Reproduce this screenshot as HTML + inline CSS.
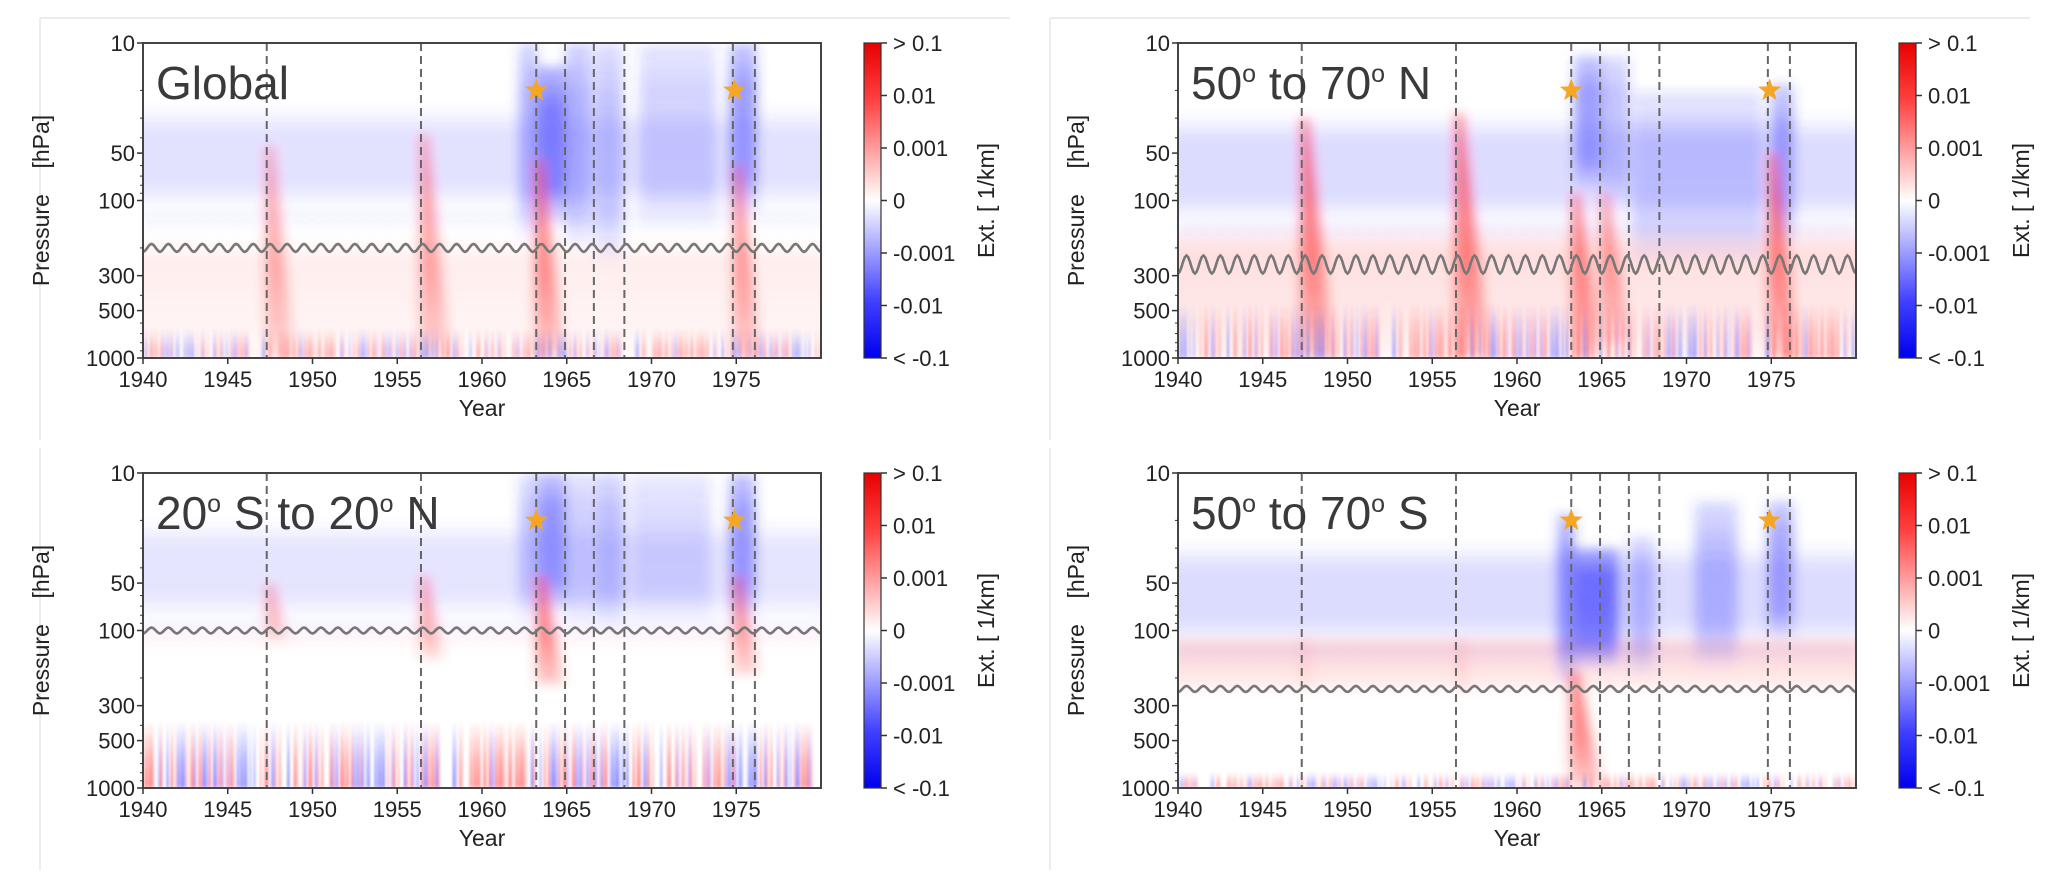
<!DOCTYPE html>
<html><head><meta charset="utf-8">
<style>
html,body{margin:0;padding:0;background:#fff;}
svg{display:block;font-family:"Liberation Sans","DejaVu Sans",sans-serif;}
</style></head>
<body>
<svg id="fig" width="2067" height="891" viewBox="0 0 2067 891" xmlns="http://www.w3.org/2000/svg">
<defs>
<linearGradient id="cbGrad" x1="0" y1="0" x2="0" y2="1">
<stop offset="0" stop-color="#e80000"/><stop offset="0.18" stop-color="#ff4040"/><stop offset="0.5" stop-color="#ffffff"/><stop offset="0.82" stop-color="#4040ff"/><stop offset="1" stop-color="#0000ee"/>
</linearGradient>
<linearGradient id="blueFade" x1="0" y1="0" x2="0" y2="1">
<stop offset="0" stop-color="#3a3aff" stop-opacity="0.5"/><stop offset="0.25" stop-color="#3a3aff" stop-opacity="1"/><stop offset="0.75" stop-color="#3a3aff" stop-opacity="0.9"/><stop offset="1" stop-color="#3a3aff" stop-opacity="0"/>
</linearGradient>
<linearGradient id="redFade" x1="0" y1="0" x2="0" y2="1">
<stop offset="0" stop-color="#ff3030" stop-opacity="1"/><stop offset="0.6" stop-color="#ff3030" stop-opacity="0.75"/><stop offset="1" stop-color="#ff3030" stop-opacity="0.3"/>
</linearGradient>
<linearGradient id="bandBlue" x1="0" y1="0" x2="0" y2="1">
<stop offset="0" stop-color="#5050ff" stop-opacity="0"/><stop offset="0.25" stop-color="#5050ff" stop-opacity="1"/><stop offset="0.75" stop-color="#5050ff" stop-opacity="1"/><stop offset="1" stop-color="#5050ff" stop-opacity="0"/>
</linearGradient>
<linearGradient id="bandRed" x1="0" y1="0" x2="0" y2="1">
<stop offset="0" stop-color="#ff4040" stop-opacity="0"/><stop offset="0.2" stop-color="#ff4040" stop-opacity="1"/><stop offset="0.7" stop-color="#ff4040" stop-opacity="0.7"/><stop offset="1" stop-color="#ff4040" stop-opacity="0.3"/>
</linearGradient>
<linearGradient id="noiseR" x1="0" y1="0" x2="0" y2="1">
<stop offset="0" stop-color="#ff3030" stop-opacity="0"/><stop offset="0.6" stop-color="#ff3030" stop-opacity="0.7"/><stop offset="1" stop-color="#ff3030" stop-opacity="1"/>
</linearGradient>
<linearGradient id="noiseB" x1="0" y1="0" x2="0" y2="1">
<stop offset="0" stop-color="#3a3aff" stop-opacity="0"/><stop offset="0.6" stop-color="#3a3aff" stop-opacity="0.7"/><stop offset="1" stop-color="#3a3aff" stop-opacity="1"/>
</linearGradient>
<filter id="soft" x="-10%" y="-10%" width="120%" height="120%"><feGaussianBlur stdDeviation="6 5"/></filter>
<filter id="softN" x="-5%" y="-5%" width="110%" height="110%"><feGaussianBlur stdDeviation="1 2"/></filter>
</defs>
</svg>
<script>
// ---- data ----
const xTicks = [1940, 1945, 1950, 1955, 1960, 1965, 1970, 1975];
const yTicks = [10, 50, 100, 300, 500, 1000];
const yMinor = [20, 30, 40, 60, 70, 80, 90, 200, 400, 600, 700, 800, 900];
const cbLabels = ['> 0.1', '0.01', '0.001', '0', '-0.001', '-0.01', '< -0.1'];
const eventYears = [1947.3, 1956.4, 1963.2, 1964.9, 1966.6, 1968.4, 1974.8, 1976.1];
const starYears = [1963.2, 1974.9];
const starPressure = [20, 20];
const panelTitles = [['Global'], ['50', ' to 70', ' N'], ['20', ' S to 20', ' N'], ['50', ' to 70', ' S']];
const wavePressure = [200, 255, 100, 235];
const waveAmp = [4, 9, 3, 3];
// background bands: [pTop, pBottom, alpha]
const blueBands = [[25, 115, 0.16], [28, 140, 0.2], [20, 85, 0.15], [28, 125, 0.2]];
const redBands = [[170, 1000, 0.09], [140, 1000, 0.17], [95, 130, 0.04], [105, 240, 0.2]];
// blue eruption blocks: [yearStart, yearEnd, pTop, pBottom, alpha]
const blueBlocks = [
  [[1962.2, 1963.3, 10, 190, 0.4], [1963.3, 1964.9, 14, 150, 0.65], [1964.9, 1966.4, 10, 210, 0.4], [1966.6, 1968.3, 10, 260, 0.3], [1969.3, 1973.8, 10, 160, 0.22], [1974.6, 1976.2, 10, 130, 0.5]],
  [[1963.4, 1965.0, 12, 90, 0.5], [1965.0, 1966.6, 12, 110, 0.3], [1966.8, 1974.5, 20, 260, 0.22], [1975.0, 1976.3, 18, 200, 0.45]],
  [[1962.2, 1963.3, 10, 90, 0.3], [1963.3, 1964.9, 10, 80, 0.55], [1964.9, 1966.5, 10, 95, 0.25], [1966.6, 1968.4, 10, 100, 0.33], [1968.8, 1973.5, 10, 95, 0.18], [1974.6, 1976.1, 10, 90, 0.5]],
  [[1962.4, 1963.4, 18, 230, 0.55], [1963.4, 1966.0, 30, 180, 0.7], [1966.6, 1968.1, 25, 200, 0.3], [1970.5, 1973.0, 15, 180, 0.32], [1974.8, 1976.3, 15, 120, 0.45]]
];
// red plumes: [yearStart, pTop, pBottom, width(yr), alpha]
const plumes = [
  [[1947.3, 45, 1000, 1.6, 0.5], [1956.4, 38, 1000, 1.7, 0.55], [1963.2, 55, 1000, 1.6, 0.7], [1974.9, 60, 1000, 1.5, 0.6]],
  [[1947.3, 30, 1000, 1.9, 0.75], [1956.4, 28, 1000, 2.0, 0.75], [1963.3, 90, 1000, 1.7, 0.7], [1965.0, 90, 800, 1.7, 0.55], [1974.9, 50, 1000, 1.7, 0.75]],
  [[1947.3, 50, 115, 1.2, 0.45], [1956.4, 45, 150, 1.3, 0.5], [1963.3, 45, 220, 1.5, 0.75], [1974.9, 45, 190, 1.4, 0.6]],
  [[1963.2, 180, 1000, 1.8, 0.75], [1956.5, 110, 250, 0.6, 0.15], [1947.3, 110, 240, 0.6, 0.12]]
];
const noiseTop = [650, 450, 380, 800];
const noiseAlpha = [0.35, 0.4, 0.55, 0.4];
const noiseCodes = "rwbrrwwbwrbrwbwwrbrwrrbwbrwwrwbbrwrrwbrwbwrrbwrbwwrbrrwbrwbrwrrbwwbrrwbrbwrwrbbwrrwbrwbrrwwbrwbrrbwrwbrrwbwrbwrrbbwrwrbwrrwbrbwwrbrwrbrwbwrrbwbrwrrbwbrbwrbwrbwrbbrwwrbrwbrrwbwr";

// ---- layout ----
const panels = [
  {x0: 143, y0: 43, w: 678, h: 315},
  {x0: 1178, y0: 43, w: 678, h: 315},
  {x0: 143, y0: 473, w: 678, h: 315},
  {x0: 1178, y0: 473, w: 678, h: 315}
];
const NS = 'http://www.w3.org/2000/svg';
const svg = document.getElementById('fig');
function mk(tag, attrs, parent) {
  const e = document.createElementNS(NS, tag);
  for (const k in attrs) e.setAttribute(k, attrs[k]);
  parent.appendChild(e);
  return e;
}

const fr1 = mk('path', {d: 'M40 18 H1010 M40 18 V440 M1050 18 H2030 M1050 18 V440 M40 448 V870 M1050 448 V870', stroke: '#ececec', 'stroke-width': 2, fill: 'none'}, svg);



panels.forEach((P, i) => {
  const xs = yr => P.x0 + (yr - 1940) / 40 * P.w;
  const ys = p => P.y0 + (Math.log10(p) - 1) / 2 * P.h;
  const g = mk('g', {}, svg);
  
  

  const clip = mk('clipPath', {id: 'clip' + i}, svg);
  mk('rect', {x: P.x0, y: P.y0, width: P.w, height: P.h}, clip);

  const hm = mk('g', {'clip-path': 'url(#clip' + i + ')'}, g);
  
  
  const soft = mk('g', {filter: 'url(#soft)'}, hm);
  const softN = mk('g', {filter: 'url(#softN)'}, hm);

  const bb = blueBands[i];
  const bandB = mk('rect', {x: P.x0 - 20, y: ys(bb[0]), width: P.w + 40, height: ys(bb[1]) - ys(bb[0]), fill: 'url(#bandBlue)', 'fill-opacity': bb[2]}, soft);
  
  
  const rb = redBands[i];
  const bandR = mk('rect', {x: P.x0 - 20, y: ys(rb[0]), width: P.w + 40, height: ys(rb[1]) - ys(rb[0]), fill: 'url(#bandRed)', 'fill-opacity': rb[2]}, soft);
  
  

  for (let yr = 1940; yr < 1980; yr++) {
    const t = mk('polygon', {points: `${xs(yr)},${ys(bb[1])} ${xs(yr + 0.5)},${ys(bb[1] * 1.35)} ${xs(yr + 1)},${ys(bb[1])}`, fill: '#5050ff', 'fill-opacity': bb[2] * 0.5}, soft);
    
    
  }

  const nTop = ys(noiseTop[i]), nBot = ys(1000);
  const nStripes = 320;
  for (let k = 0; k < nStripes; k++) {
    const c = noiseCodes[(k * 7 + i * 37) % noiseCodes.length];
    if (c === 'w') continue;
    const s = mk('rect', {x: xs(1940 + k * 40 / nStripes), y: nTop, width: P.w / nStripes + 0.5, height: nBot - nTop, fill: c === 'r' ? 'url(#noiseR)' : 'url(#noiseB)', 'fill-opacity': noiseAlpha[i] * (0.5 + 0.5 * ((k * 13) % 5) / 4)}, softN);
    
    
  }

  blueBlocks[i].forEach(b => {
    const r = mk('rect', {x: xs(b[0]), y: ys(b[2]), width: xs(b[1]) - xs(b[0]), height: ys(b[3]) - ys(b[2]), fill: 'url(#blueFade)', 'fill-opacity': b[4]}, soft);
    
    
  });

  plumes[i].forEach(pl => {
    const pts = `${xs(pl[0])},${ys(pl[1])} ${xs(pl[0] + 0.35)},${ys(pl[1])} ${xs(pl[0] + pl[3])},${ys(pl[2])} ${xs(pl[0] - 0.1)},${ys(pl[2])}`;
    const p = mk('polygon', {points: pts, fill: 'url(#redFade)', 'fill-opacity': pl[4]}, soft);
    
    
  });

  eventYears.forEach(ev => {
    const l = mk('line', {x1: xs(ev), x2: xs(ev), y1: P.y0, y2: P.y0 + P.h, stroke: '#666', 'stroke-width': 2, 'stroke-dasharray': '8 5'}, g);
    
    
  });

  let d = '';
  const wy = ys(wavePressure[i]);
  for (let k = 0; k <= 400; k++) {
    const yr = 1940 + k * 0.1;
    const yy = wy + waveAmp[i] * Math.cos(yr * 2 * Math.PI);
    d += (k ? 'L' : 'M') + xs(yr).toFixed(1) + ' ' + yy.toFixed(1);
  }
  const wv = mk('path', {d: d, stroke: '#777', 'stroke-width': 2.6, fill: 'none', 'clip-path': 'url(#clip' + i + ')'}, g);
  
  

  starYears.forEach((sy, k) => {
    const cx = xs(sy), cy = ys(starPressure[k]), R = 12, r = 5;
    let pts = '';
    for (let j = 0; j < 10; j++) {
      const a = -Math.PI / 2 + j * Math.PI / 5, rr = j % 2 ? r : R;
      pts += (cx + rr * Math.cos(a)).toFixed(1) + ',' + (cy + rr * Math.sin(a)).toFixed(1) + ' ';
    }
    const st = mk('polygon', {points: pts, fill: '#f5a623'}, g);
    
    
  });

  const fr = mk('rect', {x: P.x0, y: P.y0, width: P.w, height: P.h, fill: 'none', stroke: '#444', 'stroke-width': 2}, g);
  
  

  const tt = panelTitles[i];
  const tx = mk('text', {x: P.x0 + 13, y: P.y0 + 56, 'font-size': 46, fill: '#3a3a3a'}, g);
  
  
  if (tt.length === 1) { tx.textContent = tt[0]; }
  else {
    const a = mk('tspan', {}, tx); a.textContent = tt[0];
    const o1 = mk('tspan', {'font-size': 25, dy: -17}, tx); o1.textContent = 'o';
    const b = mk('tspan', {dy: 17}, tx); b.textContent = tt[1];
    const o2 = mk('tspan', {'font-size': 25, dy: -17}, tx); o2.textContent = 'o';
    const c = mk('tspan', {dy: 17}, tx); c.textContent = tt[2];
  }

  xTicks.forEach(t => {
    const tk = mk('line', {x1: xs(t), x2: xs(t), y1: P.y0 + P.h, y2: P.y0 + P.h + 6, stroke: '#333', 'stroke-width': 1.5}, g);
    
    
    const lb = mk('text', {x: xs(t), y: P.y0 + P.h + 29, 'font-size': 22, 'text-anchor': 'middle', fill: '#222'}, g);
    
    
    lb.textContent = t;
  });
  const xl = mk('text', {x: P.x0 + P.w / 2, y: P.y0 + P.h + 58, 'font-size': 23, 'text-anchor': 'middle', fill: '#222'}, g);
  
  
  xl.textContent = 'Year';

  yTicks.forEach(t => {
    const tk = mk('line', {x1: P.x0 - 6, x2: P.x0, y1: ys(t), y2: ys(t), stroke: '#333', 'stroke-width': 1.5}, g);
    
    
    const lb = mk('text', {x: P.x0 - 8, y: ys(t) + 8, 'font-size': 22, 'text-anchor': 'end', fill: '#222'}, g);
    
    
    lb.textContent = t;
  });
  yMinor.forEach(t => {
    const tk = mk('line', {x1: P.x0 - 3, x2: P.x0, y1: ys(t), y2: ys(t), stroke: '#333', 'stroke-width': 1}, g);
    
    
  });
  const yl = mk('text', {x: 0, y: 0, 'font-size': 23, 'text-anchor': 'middle', fill: '#222', transform: `translate(${P.x0 - 94},${P.y0 + P.h / 2}) rotate(-90)`}, g);
  
  
  yl.textContent = 'Pressure\u00a0\u00a0\u00a0\u00a0[hPa]';

  const cx0 = P.x0 + 721, cw = 17;
  const cb = mk('rect', {x: cx0, y: P.y0, width: cw, height: P.h, fill: 'url(#cbGrad)', stroke: '#333', 'stroke-width': 1.2}, g);
  
  
  cbLabels.forEach((t, k) => {
    const yy = P.y0 + k * P.h / (cbLabels.length - 1);
    const tk = mk('line', {x1: cx0 + cw, x2: cx0 + cw + 6, y1: yy, y2: yy, stroke: '#333', 'stroke-width': 1.5}, g);
    
    
    const lb = mk('text', {x: cx0 + cw + 12, y: yy + 8, 'font-size': 22, fill: '#222'}, g);
    
    
    lb.textContent = t;
  });
  const cl = mk('text', {x: 0, y: 0, 'font-size': 23, 'text-anchor': 'middle', fill: '#222', transform: `translate(${cx0 + 130},${P.y0 + P.h / 2}) rotate(-90)`}, g);
  
  
  cl.textContent = 'Ext.\u00a0[\u00a01/km]';
});
</script>
</body></html>
